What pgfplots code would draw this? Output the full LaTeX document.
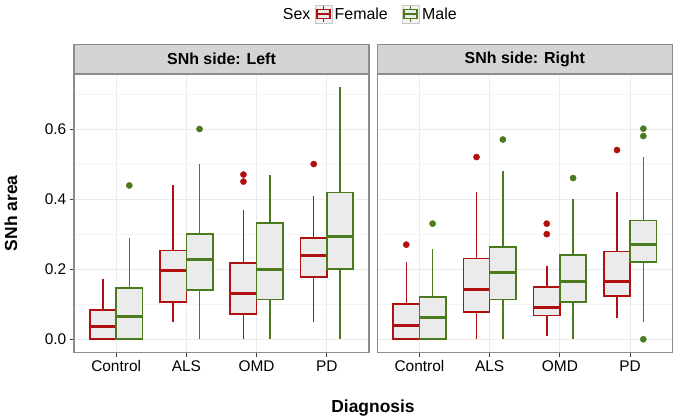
\documentclass[border=0pt]{standalone}
\usepackage{pgfplots}
\pgfplotsset{compat=1.18}
\usepackage{fontspec}
\setmainfont{Liberation Sans}
\definecolor{fem}{HTML}{B01010}
\definecolor{mal}{HTML}{4B7A1F}
\definecolor{boxfill}{HTML}{EBEBEB}
\definecolor{framegray}{HTML}{8C8C8C}
\definecolor{stripfill}{HTML}{D4D4D4}
\definecolor{keyfill}{HTML}{F2F2F2}
\definecolor{keyframe}{HTML}{C8C8C8}

% #1 colour, #2 position, #3 lower whisker, #4 Q1, #5 median, #6 Q3, #7 upper whisker
\newcommand{\bx}[7]{%
  \pgfmathsetmacro{\xl}{#2-0.1875}\pgfmathsetmacro{\xr}{#2+0.1875}%
  \addplot[#1, line width=1.5bp] coordinates {(#2,#3) (#2,#4)};
  \addplot[#1, line width=1.5bp] coordinates {(#2,#6) (#2,#7)};
  \addplot[draw=#1, fill=boxfill, line width=1.6bp, line join=miter] coordinates {(\xl,#4) (\xr,#4) (\xr,#6) (\xl,#6) (\xl,#4)} -- cycle;
  \addplot[#1, line width=3bp] coordinates {(\xl,#5) (\xr,#5)};
}
% outliers: #1 colour, #2 coordinates
\newcommand{\ol}[2]{%
  \addplot[#1, only marks, mark=*, mark size=3.1bp, mark options={draw=none, fill=#1}] coordinates {#2};
}

\pgfplotsset{panel/.style={scale only axis, width=295bp, height=278.6bp,
  xmin=0.4, xmax=4.6, ymin=-0.038, ymax=0.757,
  xtick={1,2,3,4}, xticklabels={Control,ALS,OMD,PD},
  ytick={0,0.2,0.4,0.6}, minor ytick={0.1,0.3,0.5,0.7},
  /pgf/number format/assume math mode=true,
  yticklabel style={/pgf/number format/fixed, /pgf/number format/fixed zerofill, /pgf/number format/precision=1},
  grid=both, major grid style={color=black!8, line width=0.9bp},
  minor grid style={color=black!4, line width=0.5bp},
  axis line style={framegray, line width=1.2bp},
  tick style={color=black!75, line width=0.9bp},
  major tick length=4.5bp, minor tick length=0pt, tick align=outside,
  xtick pos=bottom, ytick pos=left,
  tick label style={font=\fontsize{15.5}{18}\selectfont, black},
  xticklabel style={inner sep=0pt, yshift=-3.5bp},
  yticklabel style={inner sep=0pt, xshift=-3bp},
}}

\begin{document}
\begin{tikzpicture}
\useasboundingbox (0,0) rectangle (675bp,419bp);
\begin{scope}[x=1bp,y=1bp]
% legend
\node[anchor=base west, inner sep=0pt, font=\fontsize{16}{19}\selectfont] at (282.7,399.5) {Sex};
\foreach \kx/\kc in {315/fem, 402/mal}{
  \fill[keyfill] (\kx,396) rectangle (\kx+17,414);
  \draw[keyframe, line width=0.8bp] (\kx,396) rectangle (\kx+17,414);
  \draw[\kc, line width=1.4bp] (\kx+8.5,397) -- (\kx+8.5,413);
  \filldraw[fill=boxfill, draw=\kc, line width=1.4bp] (\kx+2,400.3) rectangle (\kx+15,409.7);
  \draw[\kc, line width=2.2bp] (\kx+2,405) -- (\kx+15,405);
}
\node[anchor=base west, inner sep=0pt, font=\fontsize{16}{19}\selectfont] at (334.5,399.5) {Female};
\node[anchor=base west, inner sep=0pt, font=\fontsize{16}{19}\selectfont] at (422,399.5) {Male};

% strips
\draw[framegray, line width=1.2bp, fill=stripfill] (74,345) rectangle (369,374.3);
\node[font=\bfseries\fontsize{16}{19}\selectfont] at (221.5,359.7) {SNh side: Left};
\draw[framegray, line width=1.2bp, fill=stripfill] (377.3,345) rectangle (672.3,374.3);
\node[font=\bfseries\fontsize{16}{19}\selectfont] at (524.8,359.7) {SNh side: Right};

% axis titles
\node[rotate=90, font=\bfseries\fontsize{17.5}{20}\selectfont] at (11,205.7) {SNh area};
\node[anchor=base, font=\bfseries\fontsize{17.5}{20}\selectfont, inner sep=0pt] at (373,6.7) {Diagnosis};
\end{scope}

\begin{axis}[panel, at={(74bp,66.4bp)}, anchor=south west]
\bx{fem}{0.8125}{0}{0}{0.036}{0.083}{0.171}
\bx{mal}{1.1875}{0}{0}{0.065}{0.1455}{0.29}
\bx{fem}{1.8125}{0.0485}{0.1056}{0.195}{0.253}{0.44}
\bx{mal}{2.1875}{0}{0.14}{0.229}{0.2996}{0.5}
\bx{fem}{2.8125}{0}{0.072}{0.130}{0.218}{0.369}
\bx{mal}{3.1875}{0}{0.113}{0.199}{0.332}{0.47}
\bx{fem}{3.8125}{0.0485}{0.177}{0.24}{0.289}{0.409}
\bx{mal}{4.1875}{0}{0.2007}{0.294}{0.419}{0.719}
\ol{fem}{(2.8125,0.47) (2.8125,0.45) (3.8125,0.5)}
\ol{mal}{(1.1875,0.439) (2.1875,0.6)}
\end{axis}

\begin{axis}[panel, at={(377.3bp,66.4bp)}, anchor=south west, yticklabels={}, ytick style={draw=none}]
\bx{fem}{0.8125}{0}{0}{0.040}{0.0999}{0.2197}
\bx{mal}{1.1875}{0}{0}{0.061}{0.12}{0.2587}
\bx{fem}{1.8125}{0}{0.078}{0.1407}{0.230}{0.419}
\bx{mal}{2.1875}{0}{0.114}{0.19}{0.263}{0.479}
\bx{fem}{2.8125}{0.0095}{0.068}{0.090}{0.149}{0.209}
\bx{mal}{3.1875}{0}{0.107}{0.166}{0.24}{0.40}
\bx{fem}{3.8125}{0.06}{0.1236}{0.1636}{0.251}{0.419}
\bx{mal}{4.1875}{0.0495}{0.2197}{0.271}{0.3395}{0.519}
\ol{fem}{(0.8125,0.27) (1.8125,0.52) (2.8125,0.33) (2.8125,0.30) (3.8125,0.54)}
\ol{mal}{(1.1875,0.33) (2.1875,0.57) (3.1875,0.46) (4.1875,0.601) (4.1875,0.58) (4.1875,0)}
\end{axis}
\end{tikzpicture}
\end{document}
